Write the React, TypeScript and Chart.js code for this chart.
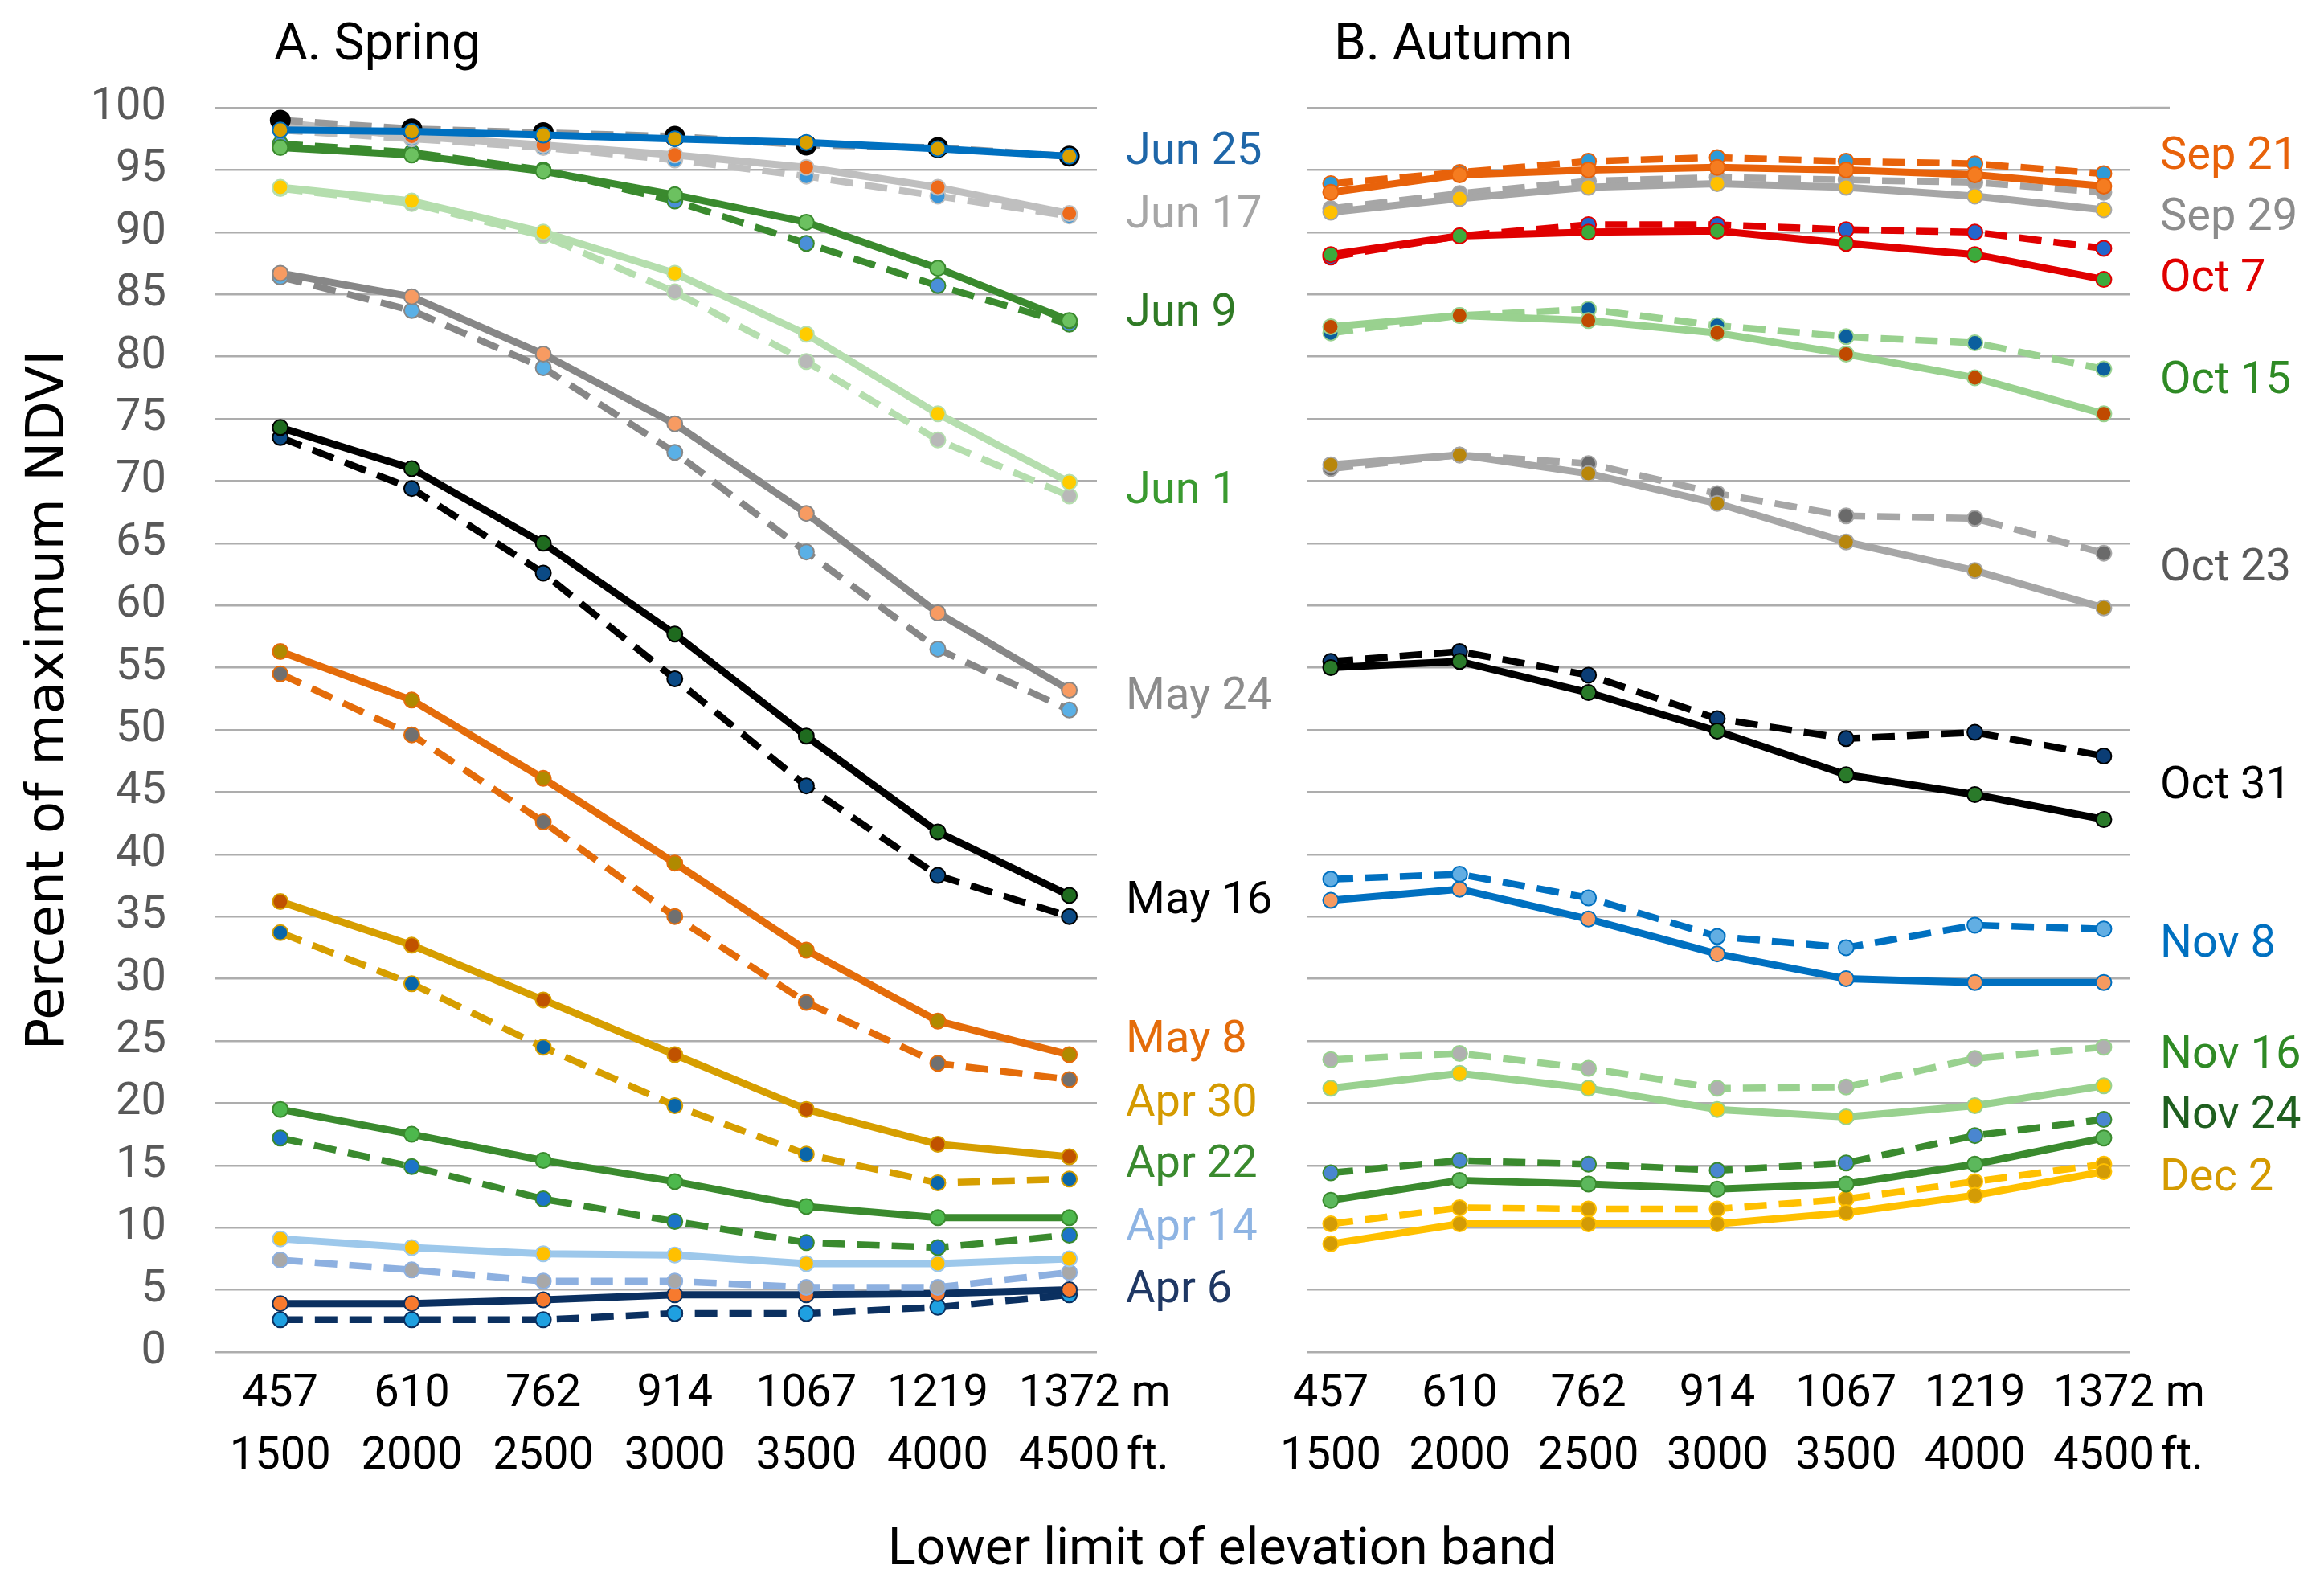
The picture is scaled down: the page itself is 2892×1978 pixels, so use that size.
import React, { useEffect, useRef } from "react";
import { Chart, registerables } from "chart.js";

Chart.register(...registerables);

const PAGE_W = 2892;
const PAGE_H = 1978;

// ---------- text / ticks ----------
const elevationM = ["457", "610", "762", "914", "1067", "1219", "1372"];
const elevationFt = ["1500", "2000", "2500", "3000", "3500", "4000", "4500"];
const unitM = "m";
const unitFt = "ft.";
const yMin = 0;
const yMax = 100;
const yStep = 5;
const panelTitles = ["A. Spring", "B. Autumn"];
const yAxisTitle = "Percent of maximum NDVI";
const xAxisTitle = "Lower limit of elevation band";

// ---------- spring data ----------
const springDates = ["Jun 25", "Jun 17", "Jun 9", "Jun 1", "May 24", "May 16", "May 8", "Apr 30", "Apr 22", "Apr 14", "Apr 6"];
const springLabelAt = [96.4, 91.3, 83.4, 69.1, 52.6, 36.2, 25.0, 19.9, 15.0, 9.9, 4.9];

const jun25Solid = [98.2, 98.1, 97.8, 97.5, 97.2, 96.7, 96.1];
const jun25Dash = [99.0, 98.3, 98.0, 97.7, 97.0, 96.8, 96.1];
const jun17Solid = [98.8, 97.7, 97.0, 96.2, 95.2, 93.6, 91.5];
const jun17Dash = [98.2, 97.5, 96.8, 95.8, 94.5, 92.9, 91.3];
const jun9Solid = [96.8, 96.2, 94.9, 93.0, 90.8, 87.1, 82.9];
const jun9Dash = [97.1, 96.4, 95.0, 92.5, 89.1, 85.7, 82.6];
const jun1Solid = [93.6, 92.5, 90.0, 86.7, 81.8, 75.4, 69.9];
const jun1Dash = [93.5, 92.3, 89.7, 85.2, 79.6, 73.3, 68.8];
const may24Solid = [86.7, 84.8, 80.2, 74.6, 67.4, 59.4, 53.2];
const may24Dash = [86.4, 83.7, 79.1, 72.3, 64.3, 56.5, 51.6];
const may16Solid = [74.3, 71.0, 65.0, 57.7, 49.5, 41.8, 36.7];
const may16Dash = [73.5, 69.4, 62.6, 54.1, 45.5, 38.3, 35.0];
const may8Solid = [56.3, 52.4, 46.1, 39.3, 32.3, 26.6, 23.9];
const may8Dash = [54.5, 49.6, 42.6, 35.0, 28.1, 23.2, 21.9];
const apr30Solid = [36.2, 32.7, 28.3, 23.9, 19.5, 16.7, 15.7];
const apr30Dash = [33.7, 29.6, 24.5, 19.8, 15.9, 13.6, 13.9];
const apr22Solid = [19.5, 17.5, 15.4, 13.7, 11.7, 10.8, 10.8];
const apr22Dash = [17.2, 14.9, 12.3, 10.5, 8.8, 8.4, 9.4];
const apr14Solid = [9.1, 8.4, 7.9, 7.8, 7.1, 7.1, 7.5];
const apr14Dash = [7.4, 6.6, 5.7, 5.7, 5.2, 5.2, 6.4];
const apr6Solid = [3.9, 3.9, 4.2, 4.6, 4.6, 4.7, 5.0];
const apr6Dash = [2.6, 2.6, 2.6, 3.1, 3.1, 3.6, 4.6];

// ---------- autumn data ----------
const autumnDates = ["Sep 21", "Sep 29", "Oct 7", "Oct 15", "Oct 23", "Oct 31", "Nov 8", "Nov 16", "Nov 24", "Dec 2"];
const autumnLabelAt = [96.0, 91.1, 86.2, 78.0, 62.9, 45.4, 32.7, 23.8, 18.9, 13.9];

const sep21Solid = [93.2, 94.6, 95.0, 95.2, 95.0, 94.6, 93.7];
const sep21Dash = [93.9, 94.8, 95.7, 96.0, 95.7, 95.5, 94.7];
const sep29Solid = [91.6, 92.7, 93.6, 93.9, 93.6, 92.9, 91.8];
const sep29Dash = [91.9, 93.1, 94.1, 94.4, 94.2, 94.0, 93.2];
const oct7Solid = [88.2, 89.7, 90.0, 90.1, 89.1, 88.2, 86.2];
const oct7Dash = [88.0, 89.7, 90.6, 90.6, 90.2, 90.0, 88.7];
const oct15Solid = [82.4, 83.3, 82.9, 81.9, 80.2, 78.3, 75.4];
const oct15Dash = [81.9, 83.3, 83.8, 82.5, 81.6, 81.1, 79.0];
const oct23Solid = [71.3, 72.1, 70.6, 68.2, 65.1, 62.8, 59.8];
const oct23Dash = [71.0, 72.1, 71.4, 69.0, 67.2, 67.0, 64.2];
const oct31Solid = [55.0, 55.5, 53.0, 49.9, 46.4, 44.8, 42.8];
const oct31Dash = [55.5, 56.3, 54.4, 50.9, 49.3, 49.8, 47.9];
const nov8Solid = [36.3, 37.2, 34.8, 32.0, 30.0, 29.7, 29.7];
const nov8Dash = [38.0, 38.4, 36.5, 33.4, 32.5, 34.3, 34.0];
const nov16Solid = [21.2, 22.4, 21.2, 19.5, 18.9, 19.8, 21.4];
const nov16Dash = [23.5, 24.0, 22.8, 21.2, 21.3, 23.6, 24.5];
const nov24Solid = [12.2, 13.8, 13.5, 13.1, 13.5, 15.1, 17.2];
const nov24Dash = [14.4, 15.4, 15.1, 14.6, 15.2, 17.4, 18.7];
const dec2Solid = [8.7, 10.3, 10.3, 10.3, 11.2, 12.6, 14.5];
const dec2Dash = [10.3, 11.6, 11.5, 11.5, 12.3, 13.7, 15.1];

const springSolid = [jun25Solid, jun17Solid, jun9Solid, jun1Solid, may24Solid, may16Solid, may8Solid, apr30Solid, apr22Solid, apr14Solid, apr6Solid];
const springDash = [jun25Dash, jun17Dash, jun9Dash, jun1Dash, may24Dash, may16Dash, may8Dash, apr30Dash, apr22Dash, apr14Dash, apr6Dash];
const autumnSolid = [sep21Solid, sep29Solid, oct7Solid, oct15Solid, oct23Solid, oct31Solid, nov8Solid, nov16Solid, nov24Solid, dec2Solid];
const autumnDash = [sep21Dash, sep29Dash, oct7Dash, oct15Dash, oct23Dash, oct31Dash, nov8Dash, nov16Dash, nov24Dash, dec2Dash];

// ---------- styles ----------
type Sty = { line: string; dashLine?: string; sMk: string; dMk: string; label: string; dMkR?: number; dMkB?: string };
const springStyles: Sty[] = [
  { line: "#0070C0", dashLine: "#9A9A9A", sMk: "#D9A000", dMk: "#000000", label: "#1E66A8", dMkR: 12, dMkB: "#000000" },
  { line: "#BFBFBF", sMk: "#EE6A1A", dMk: "#3A95D8", label: "#A6A6A6" },
  { line: "#3A8A2E", sMk: "#6CC160", dMk: "#4A8FD8", label: "#2F7A25" },
  { line: "#B5DEAE", sMk: "#FFCC00", dMk: "#B8B8B8", label: "#3A9A30" },
  { line: "#878787", sMk: "#F79B62", dMk: "#5AB0E6", label: "#8C8C8C" },
  { line: "#000000", sMk: "#1F6B1F", dMk: "#0B4A85", label: "#000000" },
  { line: "#E46C0A", sMk: "#B08A00", dMk: "#707070", label: "#E46C0A" },
  { line: "#D69E00", sMk: "#C05200", dMk: "#0A66AA", label: "#D49A00" },
  { line: "#3A8A2E", sMk: "#4DB84D", dMk: "#1C74C8", label: "#3A8A2E" },
  { line: "#9DC8EB", dashLine: "#8DB0E0", sMk: "#FFC000", dMk: "#A8A8A8", label: "#8EB4E3" },
  { line: "#0B3060", sMk: "#F77A2E", dMk: "#1FA0E0", label: "#1F3864" },
];
const autumnStyles: Sty[] = [
  { line: "#E8620A", sMk: "#F57C20", dMk: "#2D9BD8", label: "#E8620A" },
  { line: "#A6A6A6", sMk: "#FFC000", dMk: "#A0A0A0", label: "#8C8C8C" },
  { line: "#E00000", sMk: "#3CAA3C", dMk: "#2266CC", label: "#E00000" },
  { line: "#99D18F", sMk: "#C04A00", dMk: "#0B5F9E", label: "#2F8A25" },
  { line: "#A6A6A6", sMk: "#B8860B", dMk: "#6A6A6A", label: "#595959" },
  { line: "#000000", sMk: "#2A7A2A", dMk: "#0B3D75", label: "#000000" },
  { line: "#0070C0", sMk: "#F79A60", dMk: "#62AEE3", label: "#0070C0" },
  { line: "#99D18F", sMk: "#FFC800", dMk: "#B0B0B0", label: "#2F8A25" },
  { line: "#3A8A2E", sMk: "#5CB85C", dMk: "#4A86D0", label: "#1F5F1F" },
  { line: "#FFC000", sMk: "#D39B06", dMk: "#D39B06", label: "#D49A00" },
];

const SANS = "Roboto, 'Open Sans', sans-serif";
const TICK_SIZE = 56;
const TICK_LH = 78;
const X_PAD = 14;
const GRID = "#ADADAD";

type PanelCfg = {
  key: string;
  left: number;
  right: number;
  top: number;
  bottom: number;
  xMin: number;
  xMax: number;
  showY: boolean;
  solid: number[][];
  dash: number[][];
  styles: Sty[];
  dates: string[];
  labelAt: number[];
  labelX: number;
  title: string;
  titleX: number;
  extendTop: number;
  axisTitles: boolean;
};

function makeDecor(cfg: PanelCfg) {
  return {
    id: "decor_" + cfg.key,
    afterDraw(chart: any) {
      const { ctx, chartArea, scales } = chart;
      const ys = scales.y;
      const xs = scales.x;
      ctx.save();
      if (cfg.extendTop > 0) {
        ctx.strokeStyle = GRID;
        ctx.lineWidth = 2.5;
        const yy = ys.getPixelForValue(yMax);
        ctx.beginPath();
        ctx.moveTo(chartArea.right, yy);
        ctx.lineTo(chartArea.right + cfg.extendTop, yy);
        ctx.stroke();
      }
      ctx.fillStyle = "#000";
      ctx.textAlign = "left";
      ctx.textBaseline = "middle";
      ctx.font = `64px ${SANS}`;
      ctx.fillText(cfg.title, cfg.titleX, 58);
      ctx.font = `${TICK_SIZE}px ${SANS}`;
      cfg.dates.forEach((d, i) => {
        ctx.fillStyle = cfg.styles[i].label;
        ctx.fillText(d, cfg.labelX, ys.getPixelForValue(cfg.labelAt[i]));
      });
      ctx.fillStyle = "#000";
      const last = elevationM.length - 1;
      const px = xs.getPixelForValue(last);
      const row1 = chartArea.bottom + X_PAD + TICK_LH / 2;
      const row2 = row1 + TICK_LH;
      const sp = ctx.measureText(" ").width;
      ctx.fillText(unitM, px + ctx.measureText(elevationM[last]).width / 2 + sp, row1);
      ctx.fillText(unitFt, px + ctx.measureText(elevationFt[last]).width / 2 + sp * 0.6, row2);
      if (cfg.axisTitles) {
        ctx.textAlign = "center";
        ctx.font = `65px ${SANS}`;
        ctx.fillText(xAxisTitle, 1521, 1930);
        ctx.save();
        ctx.translate(62, 871);
        ctx.rotate(-Math.PI / 2);
        ctx.font = `66px 'DejaVu Sans', sans-serif`;
        ctx.fillText(yAxisTitle, 0, 0);
        ctx.restore();
      }
      ctx.restore();
    },
  };
}

function buildConfig(cfg: PanelCfg): any {
  const Y_W = cfg.showY ? 250 : 0;
  const X_H = 200;
  const datasets: any[] = [];
  let order = 0;
  cfg.solid.forEach((arr, i) => {
    const st = cfg.styles[i];
    datasets.push({
      label: cfg.dates[i] + " solid",
      data: arr.map((y, k) => ({ x: k, y })),
      borderColor: st.line,
      borderWidth: 9,
      pointRadius: 9.5,
      pointBackgroundColor: st.sMk,
      pointBorderColor: st.line,
      pointBorderWidth: 2,
      borderJoinStyle: "round",
      tension: 0,
      clip: false,
      order: order++,
    });
    datasets.push({
      label: cfg.dates[i] + " dashed",
      data: cfg.dash[i].map((y, k) => ({ x: k, y })),
      borderColor: st.dashLine || st.line,
      borderWidth: 8.5,
      borderDash: [28, 15],
      pointRadius: st.dMkR || 9.5,
      pointBackgroundColor: st.dMk,
      pointBorderColor: st.dMkB || st.dashLine || st.line,
      pointBorderWidth: 2,
      borderJoinStyle: "round",
      tension: 0,
      clip: false,
      order: order++,
    });
  });
  return {
    type: "line",
    data: { datasets },
    options: {
      responsive: false,
      animation: false,
      devicePixelRatio: 1,
      layout: {
        padding: {
          left: cfg.left - Y_W,
          right: PAGE_W - cfg.right,
          top: cfg.top,
          bottom: PAGE_H - cfg.bottom - X_H,
        },
      },
      plugins: { legend: { display: false }, tooltip: { enabled: false } },
      scales: {
        x: {
          type: "linear",
          min: cfg.xMin,
          max: cfg.xMax,
          grid: { display: false, drawTicks: false },
          border: { display: false },
          afterFit: (s: any) => {
            s.height = X_H;
          },
          afterBuildTicks: (s: any) => {
            s.ticks = elevationM.map((_, i) => ({ value: i }));
          },
          ticks: {
            autoSkip: false,
            maxRotation: 0,
            minRotation: 0,
            padding: X_PAD,
            color: "#000",
            font: { family: SANS, size: TICK_SIZE, lineHeight: TICK_LH / TICK_SIZE },
            callback: (v: number) => {
              const i = Math.round(v);
              return [elevationM[i], elevationFt[i]];
            },
          },
        },
        y: {
          min: yMin,
          max: yMax,
          grid: { color: GRID, lineWidth: 2.5, drawTicks: false },
          border: { display: false },
          afterFit: (s: any) => {
            s.width = Y_W;
          },
          ticks: {
            display: cfg.showY,
            stepSize: yStep,
            padding: 60,
            color: "#595959",
            font: { family: SANS, size: TICK_SIZE },
          },
        },
      },
    },
    plugins: [makeDecor(cfg)],
  };
}

const springCfg: PanelCfg = {
  key: "spring",
  left: 267,
  right: 1365,
  top: 134,
  bottom: 1682,
  xMin: -0.5,
  xMax: 6.21,
  showY: true,
  solid: springSolid,
  dash: springDash,
  styles: springStyles,
  dates: springDates,
  labelAt: springLabelAt,
  labelX: 1401,
  title: panelTitles[0],
  titleX: 341,
  extendTop: 0,
  axisTitles: true,
};

const autumnCfg: PanelCfg = {
  key: "autumn",
  left: 1626,
  right: 2650,
  top: 134,
  bottom: 1682,
  xMin: -0.187,
  xMax: 6.2,
  showY: false,
  solid: autumnSolid,
  dash: autumnDash,
  styles: autumnStyles,
  dates: autumnDates,
  labelAt: autumnLabelAt,
  labelX: 2688,
  title: panelTitles[1],
  titleX: 1660,
  extendTop: 50,
  axisTitles: false,
};

function Panel({ cfg }: { cfg: PanelCfg }) {
  const ref = useRef<HTMLCanvasElement | null>(null);
  useEffect(() => {
    if (!ref.current) return;
    const chart = new Chart(ref.current, buildConfig(cfg));
    return () => chart.destroy();
  }, [cfg]);
  return (
    <canvas
      ref={ref}
      width={PAGE_W}
      height={PAGE_H}
      style={{ position: "absolute", left: 0, top: 0, width: PAGE_W, height: PAGE_H }}
    />
  );
}

export default function App() {
  return (
    <div style={{ position: "absolute", left: 0, top: 0, width: PAGE_W, height: PAGE_H, background: "#fff", overflow: "hidden" }}>
      <Panel cfg={springCfg} />
      <Panel cfg={autumnCfg} />
    </div>
  );
}
